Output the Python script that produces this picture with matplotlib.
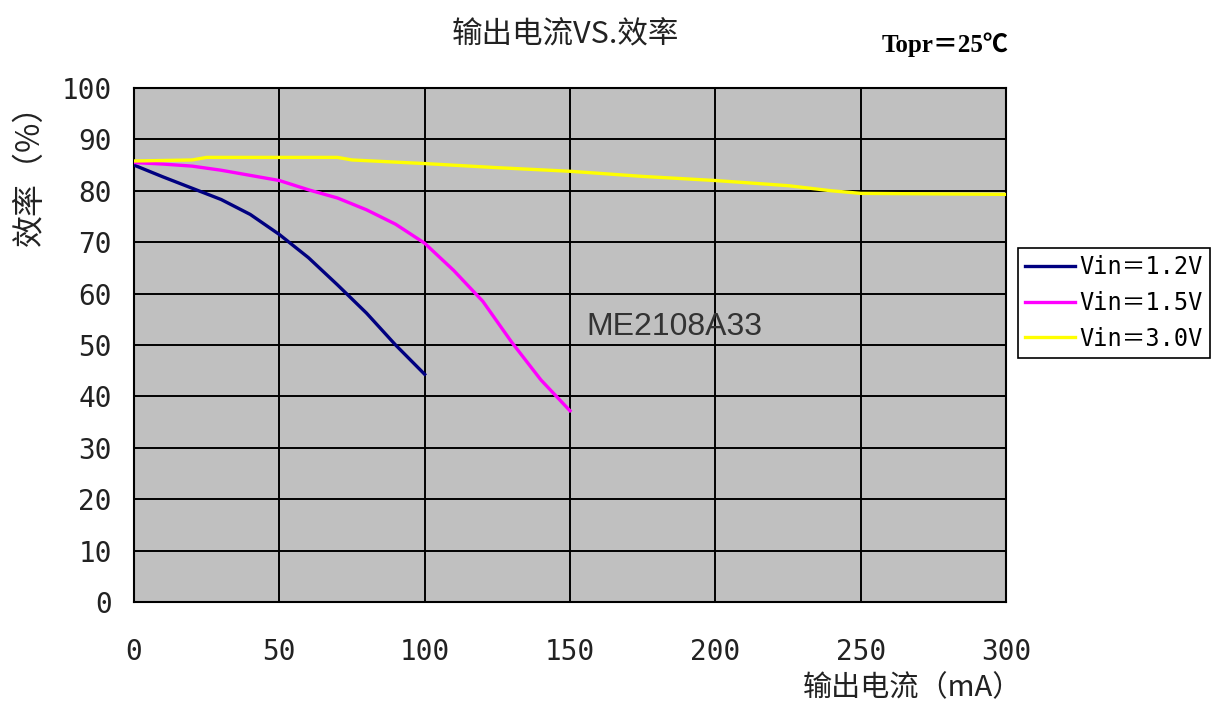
import matplotlib
matplotlib.use("Agg")
import matplotlib.pyplot as plt

# Data
x_12 = [0, 10, 20, 30, 40, 50, 60, 70, 80, 90, 100]
eff_12 = [85, 82.7, 80.5, 78.3, 75.4, 71.5, 67, 61.7, 56.2, 50, 44.3]

x_15 = [0, 10, 20, 30, 40, 50, 60, 70, 80, 90, 100, 110, 120, 130, 140, 150]
eff_15 = [85.5, 85.2, 84.8, 84, 83, 82, 80.2, 78.6, 76.3, 73.5, 69.8, 64.5, 58.5, 50.5, 43.2, 37.2]

x_30 = [0, 20, 25, 70, 75, 100, 125, 150, 175, 200, 225, 240, 250, 275, 300]
eff_30 = [85.8, 86, 86.5, 86.5, 86, 85.3, 84.5, 83.8, 82.8, 82, 81, 80, 79.5, 79.4, 79.3]

labels = ["Vin＝1.2V", "Vin＝1.5V", "Vin＝3.0V"]
colors = ["#000080", "#FF00FF", "#FFFF00"]
xticks = [0, 50, 100, 150, 200, 250, 300]
yticks = [0, 10, 20, 30, 40, 50, 60, 70, 80, 90, 100]

W, H = 1211, 705
fig = plt.figure(figsize=(W / 100, H / 100), dpi=100)
ax = fig.add_axes([134 / W, 1 - 602 / H, (1006 - 134) / W, (602 - 88) / H])
ax.set_facecolor("#C0C0C0")

lines = []
for xs, ys, c, lab in zip([x_12, x_15, x_30], [eff_12, eff_15, eff_30], colors, labels):
    ln, = ax.plot(xs, ys, color=c, lw=2.4, label=lab, zorder=3)
    lines.append(ln)

ax.set_xlim(0, 300)
ax.set_ylim(0, 100)
ax.set_xticks(xticks)
ax.set_yticks(yticks)
ax.grid(True, color="black", lw=1.4, zorder=1)
ax.set_axisbelow(True)
for s in ax.spines.values():
    s.set_color("black")
    s.set_linewidth(1.5)

mono = ["DejaVu Sans Mono", "Noto Sans CJK SC"]
ax.tick_params(axis="both", length=0)
ax.tick_params(axis="x", pad=26)
ax.tick_params(axis="y", pad=16)
for t in ax.get_xticklabels() + ax.get_yticklabels():
    t.set_family(mono)
    t.set_fontsize(20)
    t.set_color("#222222")

cjk = ["Noto Sans CJK SC", "DejaVu Sans"]
fig.text(565 / W, 1 - 35 / H, "输出电流VS.效率", family=cjk, fontsize=22,
         ha="center", va="center", color="#222222")
fig.text(30 / W, 1 - 167 / H, "效率（%）", family=cjk, fontsize=23, rotation=90,
         ha="center", va="center", color="#222222")
fig.text(1022 / W, 1 - 688 / H, "输出电流（mA）", family=cjk, fontsize=21,
         ha="right", va="center", color="#222222")
fig.text(945 / W, 1 - 45 / H, "Topr＝25℃", family=["Liberation Serif", "Noto Sans CJK SC"],
         fontsize=18, fontweight="bold", ha="center", va="center", color="black")
ax.text(186, 53.5, "ME2108A33", family=["Liberation Sans"], fontsize=23,
        ha="center", va="center", color="#333333")

leg = fig.legend(handles=lines, labels=labels, loc="upper left",
                 bbox_to_anchor=(1018 / W, 1 - 248 / H), frameon=True,
                 fancybox=False, edgecolor="black", framealpha=1,
                 prop={"family": mono, "size": 17}, handlelength=2.1,
                 handletextpad=0.2, borderpad=0.3, labelspacing=0.5,
                 borderaxespad=0)
leg.get_frame().set_linewidth(1.2)

fig.savefig("out.png", dpi=100)
